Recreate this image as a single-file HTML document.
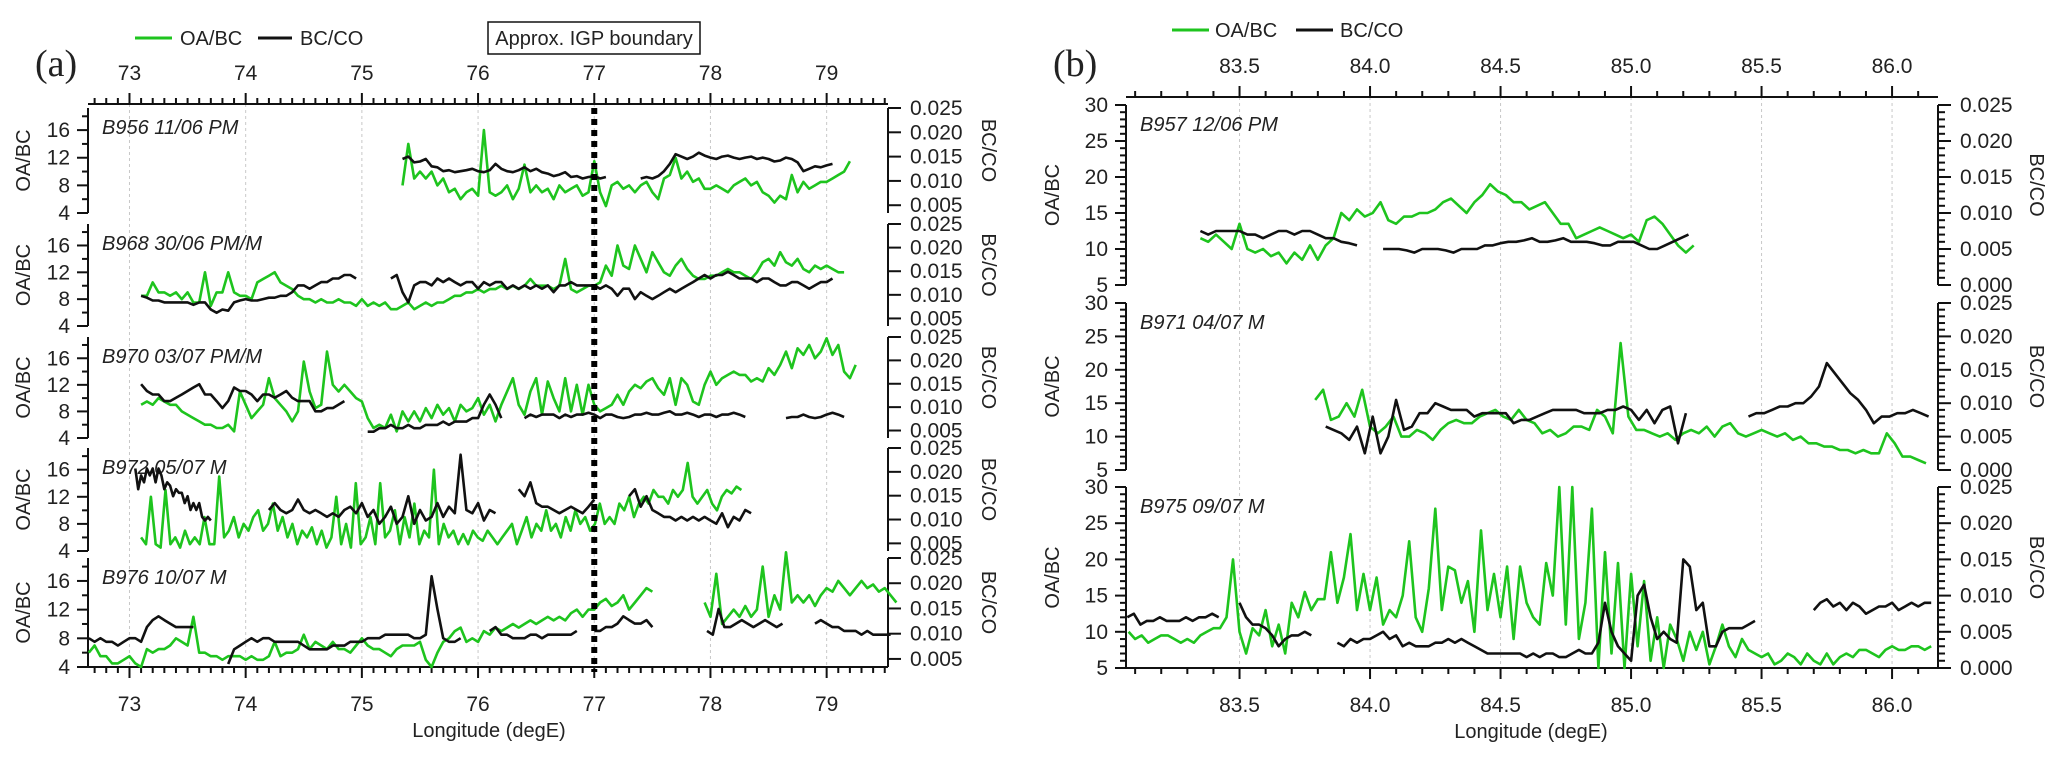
<!DOCTYPE html>
<html><head><meta charset="utf-8"><style>
html,body{margin:0;padding:0;background:#fff}
svg{display:block}
text{font-family:"Liberation Sans",sans-serif;fill:#222}
</style></head><body>
<svg id="chart" xmlns="http://www.w3.org/2000/svg" width="2067" height="760" viewBox="0 0 2067 760">
<g id="static">
<text x="35" y="76" style="font-family:'Liberation Serif',serif;font-size:38px">(a)</text>
<text x="1053" y="76" style="font-family:'Liberation Serif',serif;font-size:38px">(b)</text>
<g>
<line x1="135" y1="38" x2="172" y2="38" stroke="#1ec41e" stroke-width="3"/>
<text x="180" y="45" font-size="20">OA/BC</text>
<line x1="258" y1="38" x2="292" y2="38" stroke="#111" stroke-width="3"/>
<text x="300" y="45" font-size="20">BC/CO</text>
</g>
<g>
<line x1="1172" y1="30" x2="1209" y2="30" stroke="#1ec41e" stroke-width="3"/>
<text x="1215" y="37" font-size="20">OA/BC</text>
<line x1="1296" y1="30" x2="1333" y2="30" stroke="#111" stroke-width="3"/>
<text x="1340" y="37" font-size="20">BC/CO</text>
</g>
<g>
<rect x="488" y="22" width="212" height="32" fill="#fff" stroke="#111" stroke-width="1.5"/>
<text x="594" y="45" font-size="20" text-anchor="middle">Approx. IGP boundary</text>
</g>
<text x="489" y="737" font-size="20" text-anchor="middle">Longitude (degE)</text>
<text x="1531" y="738" font-size="20" text-anchor="middle">Longitude (degE)</text>
</g>
</svg>
<script>
// ---------- Panel (a) data: OA/BC (unitless), BC/CO in per-mille (x1e-3) ----------
const aStep = 0.05;
const a1_oa_start = 75.35;
const a1_oa = [8,14,9,10,9,10,8,9,7,7.5,6,7,7.5,6.5,16,7,6.5,7,8,6,7.5,11,7,8,7,7.5,6,8,7,7.5,8,6.5,7,11.5,7,5,8,8.5,7.5,8,7,8,8.5,7,6,9,9.5,12,9,10,8.5,9,7.5,7.5,8,7.5,7,8,8.5,9,8,8.5,7,6.5,5.5,6.5,6,9.5,7,8.5,7.5,8,8.5,8.5,9,9.5,10,11.5];
const a1_bc_starts = [75.35, 77.4];
const a1_bc = [[14.5,15,13.8,14,14.5,13,12.8,12,12.2,11.8,12,12.2,12.5,12,11.8,12.2,13.5,12.5,12,11.8,12.2,12.8,12,12.5,11.8,11.5,11,11.3,11.8,10.8,11,10.5,10.8,11,10.5,10.8],
 [10.5,10.8,10.5,11,12,13.5,15.5,15,14.5,15,15.8,15.2,14.8,14.5,15,15.2,14.8,14.5,14.8,15,14.5,14.8,14.5,14,14.2,14.8,14.5,13.8,12,12.5,13,12.8,13.2,13.5]];

const a2_oa_start = 73.1;
const a2_oa = [8.5,8.5,10.5,9,9,8.5,9,8,9,7.5,7.5,12,7,9,9,12,9,8.5,8.5,8,10.5,11,11.5,12,10.5,10,9.5,8.5,8,8,7.5,8,7.5,7.5,8,7.5,7.5,7,8,7,7.5,7,7.5,6.5,6.5,7,7.5,6.5,7,7.5,7,7.5,7.5,8,8.5,8.5,9,9,9.5,9,9.5,9.5,10,9.5,10,9.5,10,11,10,10,10,9.5,10,14,9.5,9,9.5,10,10,10.5,13,11.5,16,13,12.5,16,14,12,15,13.5,12,11.5,13,14,12.5,11.5,11,11,11.5,11.5,12,12.5,12,12,11.5,11,12,13.5,14,13,15,13.5,13,14,12.5,12,13,12.5,13,12.5,12,12];
const a2_bc_starts = [73.1, 75.25];
const a2_bc = [[9.8,9.4,8.8,8.8,8.4,8.4,8.4,8.4,8.4,7.9,8.4,8.4,6.9,6.2,6.9,6.65,8.4,8.8,9.1,8.8,8.8,9.1,9.4,9.4,9.8,9.8,10.55,12,12,11.3,12,12.7,12.7,13.45,13.45,14.2,14.2,13.45],
 [13.45,14.2,10.55,8.4,12,12.7,12.7,12,13.45,12.7,13.45,12.7,12,12.7,12.7,11.3,12.7,12,12.7,12.7,11.3,12,11.3,12,11.3,12,11.3,12,10.55,12,12,12.7,12,12,12,12,11.3,12,11.3,9.8,11.3,11.3,9.1,10.55,9.8,9.1,9.8,10.55,11.3,10.55,11.3,12,12.7,13.45,14.2,13.45,14.2,14.2,14.9,14.2,13.45,13.45,13.45,12.7,13.45,13.45,12.7,12,12,12.7,12.7,12,11.3,12,12.7,12.7,13.45]];

const a3_oa_start = 73.1;
const a3_oa = [9,9.5,9,10,9.5,9,9,8,7.5,7,6.5,6,6,5.5,5.5,6,5,11,9,7,8,9,13,10,9,8,6.5,8,15.5,11,8.5,9,17,12,11,12,11,10,9.5,7,5.5,6,5.5,7.5,5,8,6.5,8,6.5,8.5,7,9,7.5,8.5,6.5,9,8,8.5,10,7.5,9,6.5,9,11,13,9,7.5,11,13,7.5,12.5,10,8,13,8,12,7.5,12,9,8,8.5,9,10.5,9,11,12,11.5,12.5,13,11.5,10.5,13,9,13,12,9.5,9,12,14,12,13,13.5,14,13.5,13.5,12.5,13,12.5,14.5,13.5,15,17,14.5,17.5,16.5,18,16,17,19,16.5,18,14,13,15];
const a3_bc_starts = [73.1, 75.05, 76.4, 78.65];
const a3_bc = [[14.9,13.45,12.7,12.7,11.3,11.3,12,12.7,13.45,14.2,14.9,12.7,12.7,11.3,9.8,11.3,14.2,13.45,13.45,12.7,11.3,12.7,12.7,12,12.7,13.45,12,11.3,11.3,11.3,9.1,9.1,9.8,9.8,10.55,11.3],
 [4.75,4.75,5.5,5.5,6.2,5.5,5.5,6.2,5.5,5.5,6.2,6.2,6.2,6.9,6.2,6.9,6.9,6.9,7.65,7.65,10.55,12.7,10.55,7.65],
 [7.65,8.4,7.9,8.4,8.4,8.4,7.65,8.4,7.9,8.4,8.4,8.8,8.4,7.65,8.4,8.4,7.9,7.65,7.9,8.4,8.4,8.8,8.4,8.4,8.8,9.1,8.4,8.4,8.8,8.4,7.9,8.4,8.4,7.9,8.4,8.4,8.8,8.4,7.9],
 [7.65,7.9,7.9,8.4,7.9,7.65,7.9,8.4,8.8,8.4,7.9]];

const a4_oa_start = 73.1;
const a4_oa_step = 0.042;
const a4_oa = [6,5,12,5,4.5,13,5,6,4.5,7,5,6,5,9,5,5,15,6,7,9,6,8,7,9,10,7,8,11,7,9,6,8,5,7,6,7.5,5,7,4.5,6,12,5,8,4.5,14,5,6,9,5,14,6,7,10,5,9,6,11,5,7,6,16,5,8,6,7,5,6.5,5,7,6,5.5,7,6,5,6,7,8,5,7,9,6,8,7,10,7,8,6,9,7,10,8,9,7,8,11,8,9,8,11,10,12,9,11,12,11,13,12,12,11,13,12,13,17,12,11,12,13,11,10,12,13,12.5,13.5,13];
const a4_bc_starts = [73.05, 74.2, 76.35, 77.3];
const a4_bc_steps = [0.025, 0.05, 0.05, 0.05];
const a4_bc = [[20.7,16.35,19.25,17.8,20.7,19.25,20.7,17.8,20.7,19.25,16.35,17.8,17.1,14.9,16.35,15.6,15.6,13.45,14.9,12,13.45,12,13.45,10.55,9.8,10.55,9.8],
 [12,13.45,12,11.3,12,14.2,12,11.3,12,11.3,10.55,11.3,10.55,12,12.7,11.3,13.45,10.55,12,9.1,10.55,12.7,9.1,10.55,14.9,9.1,12,9.8,10.55,13.45,10.55,12.7,11.3,23.6,12,11.3,13.45,9.8,12,11.3],
 [16.35,14.9,17.8,13.45,12.7,12.7,12,11.3,12,12.7,12,11.3,12.7,14.2],
 [14.9,16.35,12.7,14.9,12,11.3,10.55,10.55,9.8,10.55,9.8,10.55,9.8,10.55,9.8,9.1,11.3,8.4,10.55,9.8,12,11.3]];

const a5_oa_starts = [72.65, 77.95];
const a5_oa = [[6,7,5.5,5.5,4.5,4.5,5,5.5,4.5,4,6.5,6,6.5,6.5,7,8,7.5,7,11,6,6,5.5,5.5,5,5.5,5.5,5.5,5,5.5,5,5,5.5,7.5,5.5,6,6,6.5,8.5,6.5,7.5,7,6.5,7.5,6.5,6.5,6,7,8,7,6.5,6.5,6,5.5,6.5,7,7,7,7.5,5,4,6,7.5,8,9,9.5,7.5,8,7.5,9,8.5,9.5,9,9.5,10,9.5,10,10.5,10,10.5,11,10.5,11,10.5,11.5,12,11,12,12,13,13.5,12.5,13,14,12,13,14,15,14.5],
 [13,11,17,10,11,12,11,12.5,11,12,18,11,14,12,20,13,14,13,14,12.5,14,15,14.5,16,15,14,15,16,15,15.5,14.5,15,14,13]];
const a5_bc_starts = [72.65, 73.85, 76.1, 77.0, 77.97, 78.9];
const a5_bc = [[9.1,8.4,9.1,8.4,8.4,7.65,8.4,9.1,9.1,8.4,11.3,12.7,13.45,12.7,12,11.3,11.3,11.3,11.3],
 [4,6.9,7.65,8.4,9.1,8.4,9.1,9.1,8.4,8.4,8.4,8.4,8.4,7.65,6.9,6.9,6.9,6.9,7.65,7.65,7.65,8.4,8.4,8.4,9.1,9.1,9.1,9.8,9.8,9.8,9.8,9.8,9.1,9.1,9.8,21.4,14.9,9.1,8.4,8.4,9.1],
 [10.55,11.3,9.8,9.8,9.1,9.1,9.1,9.8,9.8,9.1,9.8,9.8,9.8,9.8,9.8,10.55],
 [10.55,10.55,11.3,11.3,12,13.45,12.7,12,12,12.7,11.3],
 [10.55,9.8,14.9,11.3,11.3,12,12.7,12,11.3,12,12.7,12,11.3,12],
 [12,12.7,12,11.3,11.3,10.55,10.55,10.55,9.8,10.55,9.8,9.8,9.8,9.8]];

const aLabels = ["B956 11/06 PM","B968 30/06 PM/M","B970 03/07 PM/M","B972 05/07 M","B976 10/07 M"];
const aTickLon = [73,74,75,76,77,78,79];
const aLeftTicks = [4,8,12,16];
const aRightTicks = [5,10,15,20,25];
const igpLon = 77;

// ---------- Panel (b) data ----------
const b1_oa_start = 83.35, b1_oa_step = 0.03;
const b1_oa = [11.5,11,12,11,10,13.5,10,9.5,10,9,9.5,8,9.5,8.5,10.5,8.5,10.5,11.5,15,14,15.5,14.5,15,16.5,14,13.5,14.5,14.5,15,15,15.5,16.5,17,16,15,16.5,17.5,19,18,17.5,16.5,16.5,15.5,16,16.5,15,13.5,13.5,11.5,12,12.5,13,12.5,12,11.5,12,11,14,14.5,13.5,12,10.5,9.5,10.5];
const b1_bc_starts = [83.35, 84.05];
const b1_bc = [[7.5,7,7.5,7.5,7.5,7.5,7,7,6.5,7,7.5,7.5,7,7.5,7.5,7,6.5,6.5,6,5.8,5.5],
 [5,5,5,4.8,4.5,5,5,5,4.8,4.5,5,5,5,5.5,5.5,5.8,6,6,6.2,6.5,6,6,6.2,6.5,6,6,6,5.8,5.5,5.5,6,6,6,5.5,5,5,5.5,6,6.5,7]];

const b2_oa_start = 83.79, b2_oa_step = 0.03;
const b2_oa = [15.5,17,12.5,13,15,13,17,11.5,10.5,11.5,13,10,10,11,10.5,9.5,11,12,12.5,12,12,13,13.5,14,13,12.5,14,12.5,12,10.5,11,10,10.5,11.5,11.5,11,14,13,10.5,24,13,11,11,10.5,10,10.5,9.5,10.5,11,10.5,11.5,10,11.5,12,10.5,10,10.5,11,10.5,10,10.5,9.5,10,9,9,8.5,8.5,8,8,7.5,8,7.5,7.5,10.5,9,7,7,6.5,6];
const b2_bc_starts = [83.83, 85.45];
const b2_bc = [[6.5,6,5.5,4.5,6.5,2.5,8,2.5,5,10.5,6,6.5,8.5,8.5,10,9.5,9,9,9,8,8.5,8.5,8.5,8.5,7,7.5,7.5,8,8.5,9,9,9,9,8.5,8.5,8.5,9,9,9.5,9,7.5,9,7,9,9.5,4,8.5],
 [8,8.5,8.5,9,9.5,9.5,10,10,11,12.5,16,14.5,13,11.5,10.5,9,7,8,8,8.5,8.5,9,8.5,8]];

const b3_oa_start = 83.075, b3_oa_step = 0.025;
const b3_oa = [10,9,9.5,8.5,9,9.5,9.5,9,8.5,9,8.5,9.5,10,10.5,10.5,12,20,10,7,10.5,9.5,13,8,11,7,14,12,15.5,13,14.5,14.5,21,14,17.5,23.5,13,18,13,17.5,11,13,12,15,22.5,12,10,16,27,13,19,18.5,14,17,10,24,13,18,12,19,9,19,14,12,11,19.5,15,30,11,30,9,14,27,5,21,7,19.5,5,18,8,17,6,12,5,11,9,6,10,7.5,10,5.5,8,11,8,6.5,9,7.5,7,6.5,7,5.5,6,7,6.5,5.5,7,6,5.5,7,5.5,6.5,7,6.5,7.5,7.5,7,6.5,7.5,8,7.5,7.5,8,8,7.5,8];
const b3_bc_starts = [83.07, 83.5, 83.875, 85.7];
const b3_bc = [[7,7.5,6,6.5,6.5,7,6.5,6.5,6.5,7,6.5,7,7,7.5,7],
 [9,7,6,6,5.5,4.5,3,4,4.5,4.5,5,4.5],
 [3.5,3,4,3.5,4,4,4.5,5,4,4.5,3,3.5,3,3,3,3.5,3.5,4,3.5,4,3.5,3,2.5,2,2,2,2,2,2,1.5,2,1.5,2,2,1.5,1.5,2,2.5,2,2,3.5,9,5,3,2,1,10,11.5,7,4,5,4,3.5,15,14,8,9,3,3,5,5.5,5.5,5.5,6,6.5],
 [8,9,9.5,8.5,9,8,9,8.5,7.5,8,8.5,8.5,9,8,8.5,9,8.5,9,9]];

const bLabels = ["B957 12/06 PM","B971 04/07 M","B975 09/07 M"];
const bTickLon = [83.5,84.0,84.5,85.0,85.5,86.0];
const bLeftTicks = [5,10,15,20,25,30];
const bRightTicks = [0,5,10,15,20,25];

// ---------- rendering ----------
const NS = "http://www.w3.org/2000/svg";
const svg = document.getElementById('chart');
const GREEN = "#1ec41e", BLACK = "#111";
function mk(tag, attrs, parent){ const e = document.createElementNS(NS, tag); for (const k in attrs) e.setAttribute(k, attrs[k]); (parent||svg).appendChild(e); return e; }

function makePanel(cfg){
  const g = mk('g', {});
  
  
  const x = lon => cfg.x0 + (lon - cfg.lonMin) / (cfg.lonMax - cfg.lonMin) * (cfg.x1 - cfg.x0);
  cfg.xf = x;
  const yBot = cfg.strips[cfg.strips.length-1][1];
  for (let v = Math.ceil(cfg.lonMin/cfg.major)*cfg.major; v <= cfg.lonMax+1e-9; v += cfg.major){
    const gl = mk('line', {x1:x(v), x2:x(v), y1:cfg.topY, y2:yBot, stroke:'#c8c8c8', 'stroke-width':1, 'stroke-dasharray':'3,3'}, g);
    
    
  }
  const axT = mk('g', {}, g);
  
  
  mk('line', {x1:cfg.x0, x2:cfg.x1, y1:cfg.topY, y2:cfg.topY, stroke:'#111','stroke-width':2}, axT);
  const axB = mk('g', {}, g);
  
  
  mk('line', {x1:cfg.x0, x2:cfg.x1, y1:yBot, y2:yBot, stroke:'#111','stroke-width':2}, axB);
  const n0 = Math.ceil(cfg.lonMin/cfg.minor - 1e-6), n1 = Math.floor(cfg.lonMax/cfg.minor + 1e-6);
  for (let n = n0; n <= n1; n++){
    const v = n*cfg.minor;
    const isMaj = Math.abs(v/cfg.major - Math.round(v/cfg.major)) < 1e-6;
    const L = isMaj ? 11 : 6;
    mk('line', {x1:x(v), x2:x(v), y1:cfg.topY, y2:cfg.topY-L, stroke:'#111','stroke-width':2}, axT);
    mk('line', {x1:x(v), x2:x(v), y1:yBot, y2:yBot+L, stroke:'#111','stroke-width':2}, axB);
  }
  cfg.tickLon.forEach(v => {
    const t1 = mk('text', {x:x(v), y:cfg.topY-24, 'font-size':21, 'text-anchor':'middle'}, axT);
    t1.textContent = cfg.fmt(v);
    const t2 = mk('text', {x:x(v), y:yBot+44, 'font-size':21, 'text-anchor':'middle'}, axB);
    t2.textContent = cfg.fmt(v);
  });
  cfg.strips.forEach((s, i) => {
    const [sT, sB] = s;
    const yl = v => sB - (v - cfg.lDom[0]) / (cfg.lDom[1] - cfg.lDom[0]) * (sB - sT);
    const yr = v => sB - (v - cfg.rDom[0]) / (cfg.rDom[1] - cfg.rDom[0]) * (sB - sT);
    const sg = mk('g', {}, g);
    
    
    const la = mk('g', {}, sg);
    
    
    mk('line', {x1:cfg.x0, x2:cfg.x0, y1:sT, y2:sB, stroke:'#111','stroke-width':2}, la);
    for (let v = cfg.lDom[0]; v <= cfg.lDom[1]+1e-9; v += cfg.lMinor){
      const maj = cfg.leftTicks.some(t => Math.abs(t-v) < 1e-6);
      mk('line', {x1:cfg.x0, x2:cfg.x0-(maj?11:6), y1:yl(v), y2:yl(v), stroke:'#111','stroke-width':2}, la);
    }
    cfg.leftTicks.forEach(v => {
      const t = mk('text', {x:cfg.x0-18, y:yl(v)+7, 'font-size':21, 'text-anchor':'end'}, la);
      t.textContent = v;
    });
    const lt = mk('text', {x:0, y:0, 'font-size':20, 'text-anchor':'middle', transform:`translate(${cfg.x0-cfg.lTitleOff},${(sT+sB)/2}) rotate(-90)`}, la);
    lt.textContent = 'OA/BC';
    const ra = mk('g', {}, sg);
    
    
    mk('line', {x1:cfg.x1, x2:cfg.x1, y1:sT, y2:sB, stroke:'#111','stroke-width':2}, ra);
    for (let v = cfg.rTicks[0]; v <= cfg.rDom[1]+1e-9; v += cfg.rMinor){
      const maj = cfg.rTicks.some(t => Math.abs(t-v) < 1e-6);
      mk('line', {x1:cfg.x1, x2:cfg.x1+(maj?13:7), y1:yr(v), y2:yr(v), stroke:'#111','stroke-width':2}, ra);
    }
    cfg.rTicks.forEach(v => {
      const t = mk('text', {x:cfg.x1+22, y:yr(v)+7, 'font-size':21}, ra);
      t.textContent = (v/1000).toFixed(3);
    });
    const rt = mk('text', {x:0, y:0, 'font-size':20, 'text-anchor':'middle', transform:`translate(${cfg.x1+cfg.rTitleOff},${(sT+sB)/2 - 10}) rotate(90)`}, ra);
    rt.textContent = 'BC/CO';
    const lab = mk('text', {x:cfg.x0+14, y:sT+26, 'font-size':20, 'font-style':'italic'}, sg);
    
    
    lab.textContent = cfg.labels[i];
    const ser = cfg.series[i];
    const draw = (segs, yf, color, name) => {
      segs.forEach(sgm => {
        const pts = sgm.vals.map((v, k) => `${x(sgm.start + k*sgm.step).toFixed(1)},${yf(v).toFixed(1)}`).join(' ');
        const pl = mk('polyline', {points:pts, fill:'none', stroke:color, 'stroke-width':2.6, 'stroke-linejoin':'round'}, sg);
        
        
      });
    };
    draw(ser.oa, yl, GREEN, 'oa-bc-line');
    draw(ser.bc, yr, BLACK, 'bc-co-line');
  });
  return g;
}
const segs = (starts, arrs, step) => arrs.map((a, i) => ({start:starts[i], step:Array.isArray(step)?step[i]:step, vals:a}));

const panelA = {
  name:'panel-a', x0:88, x1:888, lonMin:72.643, lonMax:79.528, topY:104,
  major:1, minor:0.1, tickLon:aTickLon, fmt:v=>String(v),
  strips:[[108,213],[224,326],[337,438],[448,551],[558,667]],
  lDom:[4,19.2], lMinor:2, leftTicks:aLeftTicks, rDom:[3.4,25], rTicks:aRightTicks, rMinor:5,
  lTitleOff:58, rTitleOff:94, labels:aLabels,
  series:[
    {oa:segs([a1_oa_start],[a1_oa],aStep), bc:segs(a1_bc_starts,a1_bc,aStep)},
    {oa:segs([a2_oa_start],[a2_oa],aStep), bc:segs(a2_bc_starts,a2_bc,aStep)},
    {oa:segs([a3_oa_start],[a3_oa],aStep), bc:segs(a3_bc_starts,a3_bc,aStep)},
    {oa:segs([a4_oa_start],[a4_oa],a4_oa_step), bc:segs(a4_bc_starts,a4_bc,a4_bc_steps)},
    {oa:segs(a5_oa_starts,a5_oa,aStep), bc:segs(a5_bc_starts,a5_bc,aStep)}
  ]
};
const panelB = {
  name:'panel-b', x0:1126, x1:1938, lonMin:83.065, lonMax:86.176, topY:97,
  major:0.5, minor:0.1, tickLon:bTickLon, fmt:v=>v.toFixed(1),
  strips:[[105,285],[303,470],[487,668]],
  lDom:[5,30], lMinor:1, leftTicks:bLeftTicks, rDom:[0,25], rTicks:bRightTicks, rMinor:1,
  lTitleOff:67, rTitleOff:92, labels:bLabels,
  series:[
    {oa:segs([b1_oa_start],[b1_oa],b1_oa_step), bc:segs(b1_bc_starts,b1_bc,0.03)},
    {oa:segs([b2_oa_start],[b2_oa],b2_oa_step), bc:segs(b2_bc_starts,b2_bc,0.03)},
    {oa:segs([b3_oa_start],[b3_oa],b3_oa_step), bc:segs(b3_bc_starts,b3_bc,0.025)}
  ]
};
makePanel(panelA);
makePanel(panelB);
const igp = mk('line', {x1:panelA.xf(igpLon), x2:panelA.xf(igpLon), y1:108, y2:672, stroke:'#000', 'stroke-width':6, 'stroke-dasharray':'6,5'});


svg.appendChild(document.getElementById('static'));
</script>
</body></html>
